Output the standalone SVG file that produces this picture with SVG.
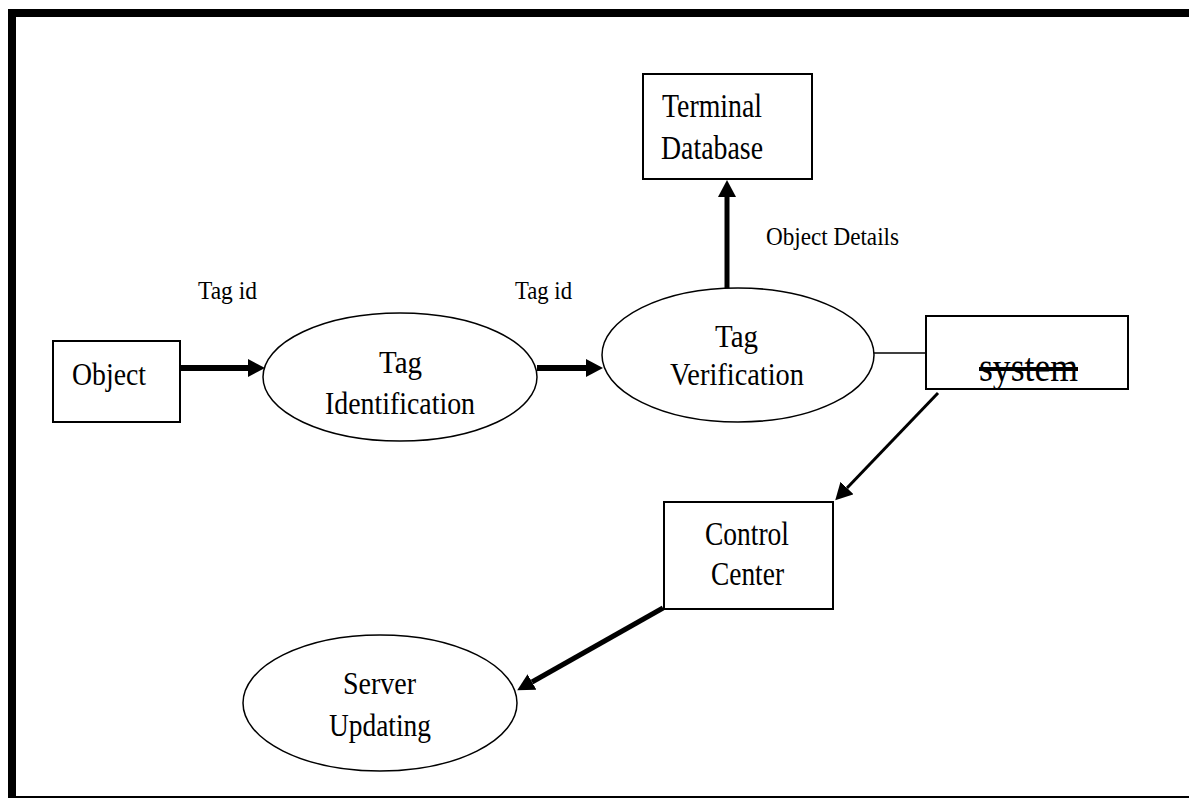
<svg xmlns="http://www.w3.org/2000/svg" width="1189" height="799" viewBox="0 0 1189 799">
<style>
.box{fill:#fff;stroke:#000;stroke-width:2}
.ell{fill:#fff;stroke:#000;stroke-width:1.5}
.t{font-family:"Liberation Serif","Times New Roman",serif;fill:#000}
.arr{stroke:#000;fill:none}
</style>
<defs>
<marker id="ah" markerUnits="userSpaceOnUse" markerWidth="17" markerHeight="18" refX="0" refY="9" orient="auto">
<path d="M0,0 L17,9 L0,18 z" fill="#000"/>
</marker>
</defs>
<rect width="1189" height="799" fill="#fff"/>
<g id="frame">
<rect x="8" y="9" width="1181" height="8" fill="#000"/>
<rect x="8" y="9" width="8" height="789" fill="#000"/>
<rect x="8" y="796" width="1181" height="2" fill="#000"/>
</g>
<g id="connectors">
<line class="arr" x1="180" y1="368" x2="248" y2="368" stroke-width="6" marker-end="url(#ah)"/>
<line class="arr" x1="537" y1="368" x2="586" y2="368" stroke-width="6" marker-end="url(#ah)"/>
<line class="arr" x1="727" y1="288" x2="727" y2="197" stroke-width="5" marker-end="url(#ah)"/>
<line class="arr" x1="938" y1="393" x2="847" y2="488" stroke-width="3" marker-end="url(#ah)"/>
<line class="arr" x1="663" y1="608" x2="532" y2="682" stroke-width="5" marker-end="url(#ah)"/>
<line class="arr" x1="874" y1="353" x2="926" y2="353" stroke-width="1.5"/>
<text class="t" x="198" y="299" font-size="25" textLength="59" lengthAdjust="spacingAndGlyphs">Tag id</text>
<text class="t" x="515" y="299" font-size="25" textLength="57" lengthAdjust="spacingAndGlyphs">Tag id</text>
<text class="t" x="766" y="245" font-size="25" textLength="133" lengthAdjust="spacingAndGlyphs">Object Details</text>
</g>
<g id="object">
<rect class="box" x="53" y="341" width="127" height="81"/>
<text class="t" x="72" y="385" font-size="31" textLength="74" lengthAdjust="spacingAndGlyphs">Object</text>
</g>
<g id="tag-identification">
<ellipse class="ell" cx="400" cy="377" rx="137" ry="64"/>
<text class="t" x="379" y="373" font-size="32" textLength="43" lengthAdjust="spacingAndGlyphs">Tag</text>
<text class="t" x="325" y="414" font-size="32" textLength="150" lengthAdjust="spacingAndGlyphs">Identification</text>
</g>
<g id="tag-verification">
<ellipse class="ell" cx="738" cy="355" rx="136" ry="67"/>
<text class="t" x="715" y="347" font-size="32" textLength="43" lengthAdjust="spacingAndGlyphs">Tag</text>
<text class="t" x="670" y="385" font-size="32" textLength="134" lengthAdjust="spacingAndGlyphs">Verification</text>
</g>
<g id="terminal-database">
<rect class="box" x="643" y="74" width="169" height="105"/>
<text class="t" x="662" y="117" font-size="34" textLength="100" lengthAdjust="spacingAndGlyphs">Terminal</text>
<text class="t" x="661" y="159" font-size="34" textLength="102" lengthAdjust="spacingAndGlyphs">Database</text>
</g>
<g id="system">
<rect class="box" x="926" y="316" width="202" height="73"/>
<text class="t" x="979" y="381" font-size="40" textLength="99" lengthAdjust="spacingAndGlyphs" text-decoration="line-through">system</text>
</g>
<g id="control-center">
<rect class="box" x="664" y="502" width="169" height="107"/>
<text class="t" x="705" y="545" font-size="33" textLength="84" lengthAdjust="spacingAndGlyphs">Control</text>
<text class="t" x="711" y="585" font-size="33" textLength="73" lengthAdjust="spacingAndGlyphs">Center</text>
</g>
<g id="server-updating">
<ellipse class="ell" cx="380" cy="703" rx="137" ry="68"/>
<text class="t" x="343" y="694" font-size="32" textLength="73" lengthAdjust="spacingAndGlyphs">Server</text>
<text class="t" x="329" y="736" font-size="32" textLength="102" lengthAdjust="spacingAndGlyphs">Updating</text>
</g>
</svg>
